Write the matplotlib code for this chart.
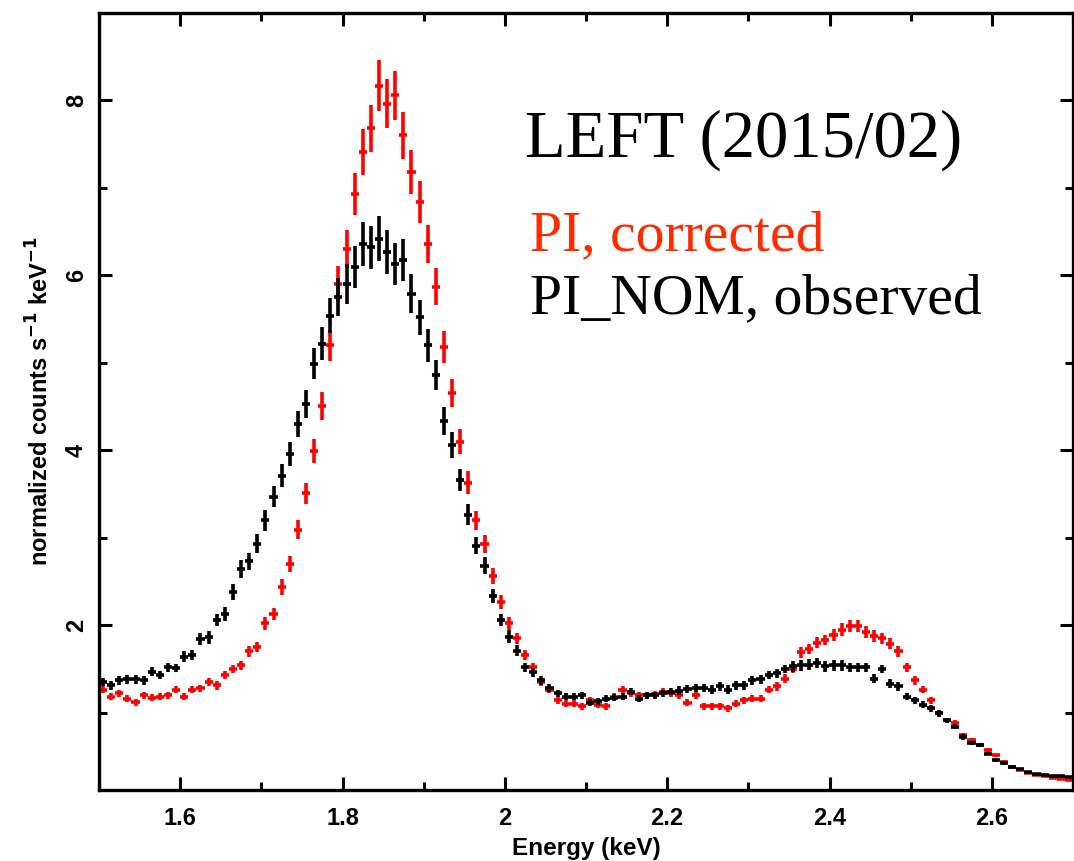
import matplotlib
matplotlib.use("Agg")
import matplotlib.pyplot as plt
from matplotlib.ticker import MultipleLocator, FuncFormatter
from matplotlib.font_manager import FontProperties

# ---- data ----
energy = [1.505, 1.515, 1.525, 1.535, 1.545, 1.555, 1.565, 1.575, 1.585, 1.595,
          1.605, 1.615, 1.625, 1.635, 1.645, 1.655, 1.665, 1.675, 1.685, 1.695,
          1.705, 1.715, 1.725, 1.735, 1.745, 1.755, 1.765, 1.775, 1.785, 1.795,
          1.805, 1.815, 1.825, 1.835, 1.845, 1.855, 1.865, 1.875, 1.885, 1.895,
          1.905, 1.915, 1.925, 1.935, 1.945, 1.955, 1.965, 1.975, 1.985, 1.995,
          2.005, 2.015, 2.025, 2.035, 2.045, 2.055, 2.065, 2.075, 2.085, 2.095,
          2.105, 2.115, 2.125, 2.135, 2.145, 2.155, 2.165, 2.175, 2.185, 2.195,
          2.205, 2.215, 2.225, 2.235, 2.245, 2.255, 2.265, 2.275, 2.285, 2.295,
          2.305, 2.315, 2.325, 2.335, 2.345, 2.355, 2.365, 2.375, 2.385, 2.395,
          2.405, 2.415, 2.425, 2.435, 2.445, 2.455, 2.465, 2.475, 2.485, 2.495,
          2.505, 2.515, 2.525, 2.535, 2.545, 2.555, 2.565, 2.575, 2.585, 2.595,
          2.605, 2.615, 2.625, 2.635, 2.645, 2.655, 2.665, 2.675, 2.685, 2.695]

observed = [1.35, 1.31, 1.37, 1.38, 1.38, 1.37, 1.47, 1.43, 1.52, 1.51,
            1.64, 1.66, 1.84, 1.86, 2.06, 2.13, 2.38, 2.64, 2.73, 2.93,
            3.20, 3.47, 3.71, 3.96, 4.30, 4.53, 4.99, 5.22, 5.54, 5.75,
            5.90, 6.10, 6.36, 6.32, 6.42, 6.27, 6.13, 6.17, 5.79, 5.52,
            5.20, 4.86, 4.34, 4.06, 3.66, 3.26, 2.91, 2.68, 2.33, 2.06,
            1.87, 1.71, 1.52, 1.46, 1.37, 1.28, 1.22, 1.18, 1.18, 1.20,
            1.11, 1.13, 1.16, 1.17, 1.18, 1.24, 1.16, 1.20, 1.20, 1.22,
            1.24, 1.25, 1.27, 1.28, 1.28, 1.26, 1.30, 1.26, 1.31, 1.31,
            1.37, 1.38, 1.43, 1.45, 1.50, 1.53, 1.54, 1.55, 1.57, 1.53,
            1.54, 1.54, 1.52, 1.52, 1.52, 1.39, 1.50, 1.33, 1.30, 1.18,
            1.14, 1.09, 1.05, 0.99, 0.91, 0.84, 0.72, 0.65, 0.63, 0.53,
            0.46, 0.42, 0.38, 0.36, 0.32, 0.30, 0.29, 0.27, 0.27, 0.26]

observed_err = [0.05, 0.05, 0.05, 0.05, 0.05, 0.05, 0.05, 0.05, 0.05, 0.05,
                0.06, 0.06, 0.07, 0.07, 0.07, 0.08, 0.09, 0.10, 0.10, 0.11,
                0.12, 0.12, 0.13, 0.14, 0.15, 0.16, 0.18, 0.19, 0.20, 0.22,
                0.23, 0.24, 0.25, 0.25, 0.26, 0.25, 0.24, 0.24, 0.22, 0.20,
                0.19, 0.17, 0.16, 0.15, 0.13, 0.12, 0.10, 0.10, 0.08, 0.07,
                0.07, 0.06, 0.05, 0.05, 0.05, 0.05, 0.04, 0.04, 0.04, 0.04,
                0.04, 0.04, 0.04, 0.04, 0.04, 0.04, 0.04, 0.04, 0.04, 0.04,
                0.04, 0.05, 0.05, 0.05, 0.05, 0.05, 0.05, 0.05, 0.05, 0.05,
                0.05, 0.05, 0.05, 0.05, 0.05, 0.06, 0.06, 0.06, 0.06, 0.06,
                0.06, 0.06, 0.05, 0.05, 0.05, 0.05, 0.05, 0.05, 0.05, 0.04,
                0.04, 0.04, 0.04, 0.04, 0.03, 0.03, 0.03, 0.02, 0.02, 0.02,
                0.02, 0.02, 0.01, 0.01, 0.01, 0.01, 0.01, 0.01, 0.01, 0.01]

corrected = [1.26, 1.18, 1.22, 1.16, 1.12, 1.20, 1.17, 1.18, 1.20, 1.26,
             1.18, 1.26, 1.28, 1.35, 1.31, 1.43, 1.50, 1.54, 1.70, 1.75,
             2.02, 2.13, 2.44, 2.70, 3.09, 3.51, 3.99, 4.51, 5.20, 5.90,
             6.30, 6.93, 7.41, 7.68, 8.17, 7.96, 8.06, 7.60, 7.18, 6.84,
             6.36, 5.87, 5.18, 4.65, 4.10, 3.63, 3.20, 2.93, 2.56, 2.26,
             2.02, 1.85, 1.66, 1.52, 1.35, 1.26, 1.14, 1.10, 1.10, 1.07,
             1.14, 1.09, 1.07, 1.18, 1.26, 1.22, 1.20, 1.20, 1.21, 1.24,
             1.22, 1.20, 1.11, 1.20, 1.07, 1.07, 1.07, 1.05, 1.10, 1.14,
             1.16, 1.16, 1.26, 1.30, 1.39, 1.50, 1.69, 1.73, 1.80, 1.83,
             1.89, 1.95, 1.99, 1.99, 1.92, 1.88, 1.85, 1.79, 1.70, 1.52,
             1.37, 1.26, 1.14, 0.99, 0.91, 0.88, 0.74, 0.69, 0.63, 0.57,
             0.51, 0.44, 0.38, 0.34, 0.31, 0.29, 0.27, 0.25, 0.24, 0.23]

corrected_err = [0.04, 0.04, 0.04, 0.04, 0.04, 0.04, 0.04, 0.04, 0.04, 0.04,
                 0.04, 0.04, 0.04, 0.05, 0.05, 0.05, 0.05, 0.05, 0.06, 0.06,
                 0.07, 0.07, 0.09, 0.09, 0.11, 0.12, 0.14, 0.16, 0.18, 0.21,
                 0.22, 0.24, 0.26, 0.27, 0.29, 0.28, 0.28, 0.27, 0.25, 0.24,
                 0.22, 0.21, 0.18, 0.16, 0.14, 0.13, 0.11, 0.10, 0.09, 0.08,
                 0.07, 0.06, 0.06, 0.05, 0.05, 0.04, 0.04, 0.04, 0.04, 0.04,
                 0.04, 0.04, 0.04, 0.04, 0.04, 0.04, 0.04, 0.04, 0.04, 0.04,
                 0.04, 0.04, 0.04, 0.04, 0.04, 0.04, 0.04, 0.04, 0.04, 0.04,
                 0.04, 0.04, 0.04, 0.05, 0.05, 0.05, 0.06, 0.06, 0.06, 0.06,
                 0.07, 0.07, 0.07, 0.07, 0.07, 0.07, 0.06, 0.06, 0.06, 0.05,
                 0.05, 0.04, 0.04, 0.03, 0.03, 0.03, 0.03, 0.02, 0.02, 0.02,
                 0.02, 0.02, 0.01, 0.01, 0.01, 0.01, 0.01, 0.01, 0.01, 0.01]

bin_half_width = 0.005

title_text = "LEFT (2015/02)"
label_corrected = "PI, corrected"
label_observed = "PI_NOM, observed"
xlabel = "Energy (keV)"
ylabel = r"normalized counts s$^{\mathbf{-1}}$ keV$^{\mathbf{-1}}$"

# ---- figure ----
W, H = 1074, 861
fig = plt.figure(figsize=(W / 100, H / 100), dpi=100)
ax = fig.add_axes([99 / W, 1 - 790 / H, (1073 - 99) / W, (790 - 13) / H])

ax.errorbar(energy, corrected, xerr=bin_half_width, yerr=corrected_err,
            fmt="none", ecolor="#ff0000", elinewidth=2.6, capsize=0, zorder=2)
ax.errorbar(energy, observed, xerr=bin_half_width, yerr=observed_err,
            fmt="none", ecolor="#000000", elinewidth=2.6, capsize=0, zorder=3)

ax.set_xlim(1.5, 2.7)
ax.set_ylim(0.115, 9.0)

ax.xaxis.set_major_locator(MultipleLocator(0.2))
ax.xaxis.set_minor_locator(MultipleLocator(0.1))
ax.yaxis.set_major_locator(MultipleLocator(2))
ax.yaxis.set_minor_locator(MultipleLocator(1))
fmt = FuncFormatter(lambda v, p: "%g" % round(v, 6))
ax.xaxis.set_major_formatter(fmt)
ax.yaxis.set_major_formatter(fmt)

for s in ax.spines.values():
    s.set_linewidth(2.4)

ax.tick_params(which="both", direction="in", top=True, right=True, width=2.2)
ax.tick_params(which="major", length=9.5)
ax.tick_params(which="minor", length=5.5)
ax.tick_params(axis="x", which="major", pad=12)
ax.tick_params(axis="y", which="major", pad=8)

tick_fp = FontProperties(family="Liberation Sans", weight="bold", size=17)
for lab in ax.get_xticklabels():
    lab.set_fontproperties(tick_fp)
for lab in ax.get_yticklabels():
    lab.set_fontproperties(tick_fp)
    lab.set_rotation(90)
    lab.set_verticalalignment("center")

ax.set_xlabel(xlabel, fontfamily="Liberation Sans", fontweight="bold",
              fontsize=17.5, labelpad=5)
ax.set_ylabel(ylabel, fontfamily="Liberation Sans", fontweight="bold",
              fontsize=17, labelpad=8)

serif = ["Liberation Serif", "DejaVu Serif"]
fig.text(525 / W, 1 - 157 / H, title_text, fontfamily=serif, fontsize=48,
         color="black", ha="left", va="baseline")
fig.text(530 / W, 1 - 250 / H, label_corrected, fontfamily=serif, fontsize=41.5,
         color="#ff2a00", ha="left", va="baseline")
fig.text(530 / W, 1 - 313 / H, label_observed, fontfamily=serif, fontsize=41.5,
         color="black", ha="left", va="baseline")

fig.savefig("out.png", dpi=100)
